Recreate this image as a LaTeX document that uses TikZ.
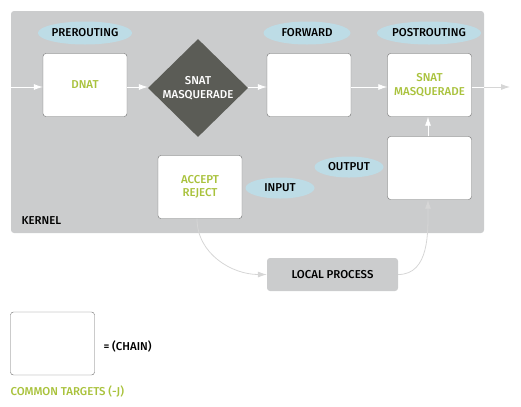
\documentclass[tikz,border=0pt]{standalone}
\usepackage{fontspec}
\setmainfont{Fira Sans}[UprightFont={* Medium}]
\usetikzlibrary{arrows,arrows.meta,shapes,calc}
\definecolor{kernelgrey}{HTML}{CBCCCD}
\definecolor{hookblue}{HTML}{BDDCE6}
\definecolor{targetgreen}{HTML}{A9C23C}
\definecolor{natgrey}{HTML}{5B5C56}
\definecolor{edgegrey}{HTML}{6E6E6E}
\definecolor{flowgrey}{HTML}{D6D6D6}
\tikzset{
    chainbox/.style = {draw=edgegrey, fill=white, rounded corners=3pt,
        minimum width=84bp,
        minimum height=63bp, align=center, text=targetgreen},
    hook/.style = {ellipse, fill=hookblue, inner sep=0pt,
        minimum width=87bp, minimum height=23bp},
    natdiamond/.style = {diamond, fill=natgrey, text=white, inner sep=0pt,
        minimum width=100bp, minimum height=98bp, align=center},
    procbox/.style = {fill=kernelgrey, rounded corners=3pt,
        minimum width=131bp, minimum height=33bp},
    arrow/.style = {draw=white, -{Latex[length=9bp,width=6bp]}, line width=0.8pt},
    flow/.style = {draw=flowgrey, -{Latex[length=9bp,width=6bp]}, line width=0.8pt}
}

\begin{document}
\begin{tikzpicture}[x=1bp,y=-1bp,font=\fontsize{11.5}{13.5}\selectfont]
            \useasboundingbox (0,0) rectangle (521,406);
            \fill[kernelgrey, rounded corners=3pt] (11,11) rectangle (484,233);
            \node[anchor=west] (kernel) at (18,221) {KERNEL};
            % hooks
            \node[hook] (prerouting) at (85,33) {PREROUTING};
            \node[hook] (forward) at (307,33) {FORWARD};
            \node[hook] (postrouting) at (429,33) {POSTROUTING};
            \node[hook, minimum width=69bp, minimum height=21bp] (input) at (280,188) {INPUT};
            \node[hook, minimum width=69bp, minimum height=21bp] (output) at (349,167) {OUTPUT};
            % chains
            \node[chainbox] (dnat) at (85,85) {DNAT};
            \node[natdiamond] (snat) at (198,88) {SNAT\\MASQUERADE};
            \node[chainbox] (fwdchain) at (309,85) {};
            \node[chainbox] (postchain) at (429.5,85) {SNAT\\MASQUERADE};
            \node[chainbox] (outchain) at (429.5,168) {};
            \node[chainbox] (accept) at (200,187) {ACCEPT\\REJECT};
            \node[procbox] (local) at (332.5,274.5) {LOCAL PROCESS};
            \coordinate (in) at (11,87);
            \coordinate (out) at (510,87);
            \draw[arrow] (in) -- (dnat.west |- in);
            \draw[arrow] (dnat.east |- in) -- (snat.west |- in);
            \draw[arrow] (snat.east |- in) -- (fwdchain.west |- in);
            \draw[arrow] (fwdchain.east |- in) -- (postchain.west |- in);
            \draw[flow] (postchain.east |- in) -- (out);
            \draw[white, line width=0.8pt] (postchain.east |- in) -- (484,87);
            \draw[arrow] (outchain.north -| 428,0) -- (postchain.south -| 428,0);
            \draw[flow] (accept.south -| 197,0) to[out=-90,in=180] (local.west);
            \draw[flow] (local.east) to[out=0,in=-90] (outchain.south -| 428,0);
            % legend
            \node[chainbox] (legend) at (52.5,343.5) {};
            \node[anchor=west] (chainlabel) at (100,346) {= (CHAIN)};
            \node[anchor=west, text=targetgreen] (targets) at (7,391) {COMMON TARGETS (-J)};
        \end{tikzpicture}
\end{document}
